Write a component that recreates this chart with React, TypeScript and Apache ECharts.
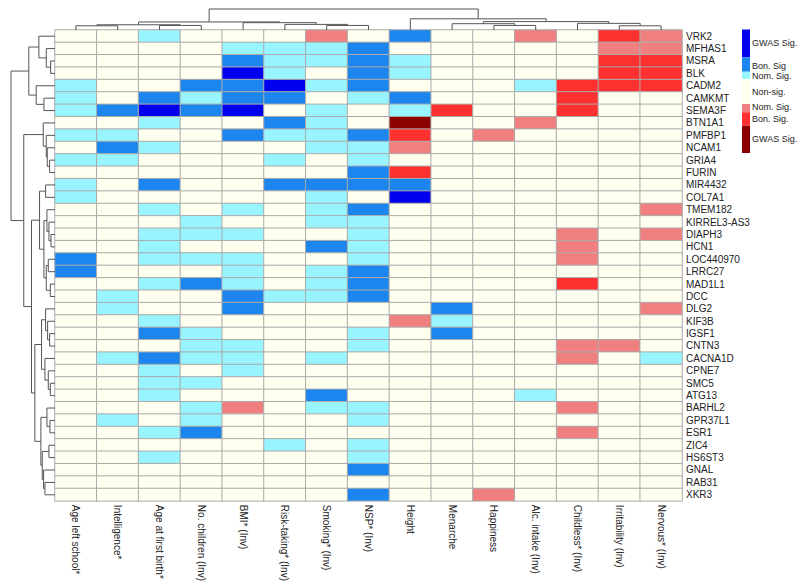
import React, { useEffect, useRef } from "react";
import * as echarts from "echarts";

const traits = [
  "Age left school*",
  "Intelligence*",
  "Age at first birth*",
  "No. children (Inv)",
  "BMI* (Inv)",
  "Risk-taking* (Inv)",
  "Smoking* (Inv)",
  "NSP* (Inv)",
  "Height",
  "Menarche",
  "Happiness",
  "Alc. intake (Inv)",
  "Childless* (Inv)",
  "Irritability (Inv)",
  "Nervous* (Inv)",
];

const genes = [
  "VRK2", "MFHAS1", "MSRA", "BLK", "CADM2", "CAMKMT", "SEMA3F", "BTN1A1",
  "PMFBP1", "NCAM1", "GRIA4", "FURIN", "MIR4432", "COL7A1", "TMEM182",
  "KIRREL3-AS3", "DIAPH3", "HCN1", "LOC440970", "LRRC27", "MAD1L1", "DCC",
  "DLG2", "KIF3B", "IGSF1", "CNTN3", "CACNA1D", "CPNE7", "SMC5", "ATG13",
  "BARHL2", "GPR37L1", "ESR1", "ZIC4", "HS6ST3", "GNAL", "RAB31", "XKR3",
];

// -3 GWAS sig (neg), -2 Bonferroni, -1 nominal, 0 non-sig, 1 nominal, 2 Bonferroni, 3 GWAS sig
const significance = [
  [0, 0, -1, 0, 0, 0, 1, 0, -2, 0, 0, 1, 0, 2, 1],
  [0, 0, 0, 0, -1, -1, -1, -2, 0, 0, 0, 0, 0, 1, 1],
  [0, 0, 0, 0, -2, -1, -1, -2, -1, 0, 0, 0, 0, 2, 2],
  [0, 0, 0, 0, -3, -1, 0, -2, -1, 0, 0, 0, 0, 2, 2],
  [-1, 0, 0, -2, -2, -3, -1, -2, 0, 0, 0, -1, 2, 2, 2],
  [-1, 0, -2, -1, -2, -2, 0, -1, -2, 0, 0, 0, 2, 0, 0],
  [-1, -2, -3, -2, -3, 0, -1, 0, -1, 2, 0, 0, 2, 0, 0],
  [0, 0, -1, 0, 0, -2, -1, 0, 3, 0, 0, 1, 0, 0, 0],
  [-1, -1, 0, 0, -2, -1, -1, -2, 2, 0, 1, 0, 0, 0, 0],
  [0, -2, -1, 0, 0, 0, -1, -1, 1, 0, 0, 0, 0, 0, 0],
  [-1, -1, 0, 0, 0, -1, 0, -1, 0, 0, 0, 0, 0, 0, 0],
  [0, 0, 0, 0, 0, 0, 0, -2, 2, 0, 0, 0, 0, 0, 0],
  [-1, 0, -2, 0, 0, -2, -2, -2, -2, 0, 0, 0, 0, 0, 0],
  [-1, 0, 0, 0, 0, 0, -1, 0, -3, 0, 0, 0, 0, 0, 0],
  [0, 0, -1, 0, -1, 0, -1, -2, 0, 0, 0, 0, 0, 0, 1],
  [0, 0, 0, -1, 0, 0, -1, -1, 0, 0, 0, 0, 0, 0, 0],
  [0, 0, -1, -1, -1, 0, 0, -1, 0, 0, 0, 0, 1, 0, 1],
  [0, 0, -1, 0, 0, 0, -2, -1, 0, 0, 0, 0, 1, 0, 0],
  [-2, 0, -1, -1, -1, 0, 0, -1, 0, 0, 0, 0, 1, 0, 0],
  [-2, 0, 0, 0, -1, 0, -1, -2, 0, 0, 0, 0, 0, 0, 0],
  [0, 0, -1, -2, -1, 0, -1, -2, 0, 0, 0, 0, 2, 0, 0],
  [0, -1, 0, 0, -2, -1, -1, -2, 0, 0, 0, 0, 0, 0, 0],
  [0, -1, 0, 0, -2, 0, 0, 0, 0, -2, 0, 0, 0, 0, 1],
  [0, 0, -1, 0, 0, 0, 0, 0, 1, -1, 0, 0, 0, 0, 0],
  [0, 0, -2, -1, 0, 0, 0, -1, 0, -2, 0, 0, 0, 0, 0],
  [0, 0, 0, -1, -1, 0, 0, -1, 0, 0, 0, 0, 1, 1, 0],
  [0, -1, -2, -1, -1, 0, -1, 0, 0, 0, 0, 0, 1, 0, -1],
  [0, 0, -1, 0, -1, 0, 0, 0, 0, 0, 0, 0, 0, 0, 0],
  [0, 0, -1, -1, 0, 0, 0, 0, 0, 0, 0, 0, 0, 0, 0],
  [0, 0, -1, 0, 0, 0, -2, 0, 0, 0, 0, -1, 0, 0, 0],
  [0, 0, 0, -1, 1, 0, -1, -1, 0, 0, 0, 0, 1, 0, 0],
  [0, -1, 0, -1, 0, 0, 0, -1, 0, 0, 0, 0, 0, 0, 0],
  [0, 0, -1, -2, 0, 0, 0, 0, 0, 0, 0, 0, 1, 0, 0],
  [0, 0, 0, 0, 0, -1, 0, -1, 0, 0, 0, 0, 0, 0, 0],
  [0, 0, -1, 0, 0, 0, 0, -1, 0, 0, 0, 0, 0, 0, 0],
  [0, 0, 0, 0, 0, 0, 0, -2, 0, 0, 0, 0, 0, 0, 0],
  [0, 0, 0, 0, 0, 0, 0, 0, 0, 0, 0, 0, 0, 0, 0],
  [0, 0, 0, 0, 0, 0, 0, -2, 0, 0, 1, 0, 0, 0, 0],
];

const levels = [-3, -2, -1, 0, 1, 2, 3];
const levelColors = ["#0000EE", "#1C86EE", "#98F5FF", "#FFFFF0", "#F08080", "#FF3030", "#8B0000"];
const legendLabels = ["GWAS Sig.", "Bon. Sig", "Nom. Sig.", "Non-sig.", "Nom. Sig.", "Bon. Sig.", "GWAS Sig."];

type Node = number | [Node, Node, number];

// dendrogram over traits (leaf = column index, last = merge height)
const traitTree: Node = [
  [[[0, 1, 12], [2, 3, 13], 15], [4, [5, [6, 7, 13], 16], 21], 23],
  [8, [[9, [10, 11, 13], 18], [12, [13, 14, 12], 19], 24], 32],
  60,
];

// dendrogram over genes (leaf = row index, last = merge height)
const geneTree: Node = [
  [[0, [1, [2, 3, 13], 26], 48], [4, [5, 6, 33], 56], 78],
  [
    [7, [8, [9, [10, 11, 16], 23], 26], 35],
    [
      [[12, 13, 28], [[14, [15, [16, 17, 12], 18], 24], [[18, 19, 20], [20, 21, 14], 26], 33], 46],
      [
        [[22, [23, [24, 25, 16], 22], 28], [26, [27, [28, 29, 14], 20], 30], 40],
        [[30, [31, 32, 15], 24], [[33, 34, 18], [35, [36, 37, 30], 34], 38], 42],
        60,
      ],
      70,
    ],
    93,
  ],
  131,
];

function collectLinks(node: Node, out: number[][]): [number, number] {
  if (typeof node === "number") return [node + 0.5, 0];
  const a = collectLinks(node[0], out);
  const b = collectLinks(node[1], out);
  out.push([a[0], a[1], b[0], b[1], node[2]]);
  return [(a[0] + b[0]) / 2, node[2]];
}

const FONT = "'Liberation Sans', Arial, sans-serif";

export default function App() {
  const ref = useRef<HTMLDivElement>(null);

  useEffect(() => {
    if (!ref.current) return;
    const chart = echarts.init(ref.current, undefined, { renderer: "svg" });

    const cells: number[][] = [];
    significance.forEach((row, r) => row.forEach((v, c) => cells.push([c, r, v])));

    const traitLinks: number[][] = [];
    const traitRoot = collectLinks(traitTree, traitLinks);
    const geneLinks: number[][] = [];
    const geneRoot = collectLinks(geneTree, geneLinks);

    const lineStyle = { stroke: "#555", fill: "none", lineWidth: 1 };

    // legend bar (layout)
    const bandHeights = [27.8, 14.4, 7.3, 25, 8.3, 13.4, 27.3];
    const labelShift = [0, 1, 0.5, 0, -1.5, 0, 0];
    const legendX = 742;
    let yy = 29.5;
    const legendGraphics: any[] = [];
    levelColors.forEach((col, i) => {
      const h = bandHeights[i];
      legendGraphics.push({
        type: "rect",
        shape: { x: legendX, y: yy, width: 8, height: h },
        style: { fill: col },
        silent: true,
      });
      legendGraphics.push({
        type: "text",
        x: legendX + 10,
        y: yy + h / 2 + labelShift[i],
        style: {
          text: legendLabels[i],
          fill: "#222",
          font: `9px ${FONT}`,
          verticalAlign: "middle",
        },
        silent: true,
      });
      yy += h;
    });

    chart.setOption({
      animation: false,
      backgroundColor: "#ffffff",
      grid: [
        { left: 55, right: 118, top: 30, height: 471, containLabel: false },
        { left: 55, right: 118, top: 9, height: 21, containLabel: false },
        { left: 11, width: 44, top: 30, height: 471, containLabel: false },
      ],
      xAxis: [
        {
          type: "category",
          data: traits,
          gridIndex: 0,
          position: "bottom",
          axisLine: { show: false },
          axisTick: { show: false },
          splitLine: { show: false },
          axisLabel: {
            rotate: -90,
            margin: 4,
            fontSize: 10,
            color: "#222",
            fontFamily: FONT,
            interval: 0,
          },
        },
        { type: "value", gridIndex: 1, min: 0, max: traits.length, show: false },
        { type: "value", gridIndex: 2, min: 0, max: geneRoot[1], inverse: true, show: false },
      ],
      yAxis: [
        {
          type: "category",
          data: genes,
          gridIndex: 0,
          inverse: true,
          position: "right",
          axisLine: { show: false },
          axisTick: { show: false },
          splitLine: { show: false },
          axisLabel: {
            margin: 4,
            fontSize: 10,
            color: "#222",
            fontFamily: FONT,
            interval: 0,
          },
        },
        { type: "value", gridIndex: 1, min: 0, max: traitRoot[1], show: false },
        { type: "value", gridIndex: 2, min: 0, max: genes.length, inverse: true, show: false },
      ],
      visualMap: {
        type: "piecewise",
        show: false,
        seriesIndex: 0,
        dimension: 2,
        pieces: levels.map((v, i) => ({ value: v, color: levelColors[i] })),
      },
      series: [
        {
          type: "heatmap",
          xAxisIndex: 0,
          yAxisIndex: 0,
          data: cells,
          itemStyle: { borderColor: "#ababab", borderWidth: 1 },
          emphasis: { disabled: true },
        },
        {
          type: "custom",
          xAxisIndex: 1,
          yAxisIndex: 1,
          data: traitLinks,
          silent: true,
          renderItem: (params: any, api: any) => {
            const p1 = api.value(0), h1 = api.value(1), p2 = api.value(2), h2 = api.value(3), hm = api.value(4);
            return {
              type: "polyline",
              shape: {
                points: [api.coord([p1, h1]), api.coord([p1, hm]), api.coord([p2, hm]), api.coord([p2, h2])],
              },
              style: lineStyle,
            };
          },
        },
        {
          type: "custom",
          xAxisIndex: 2,
          yAxisIndex: 2,
          data: geneLinks,
          silent: true,
          renderItem: (params: any, api: any) => {
            const p1 = api.value(0), h1 = api.value(1), p2 = api.value(2), h2 = api.value(3), hm = api.value(4);
            return {
              type: "polyline",
              shape: {
                points: [api.coord([h1, p1]), api.coord([hm, p1]), api.coord([hm, p2]), api.coord([h2, p2])],
              },
              style: lineStyle,
            };
          },
        },
      ],
      graphic: legendGraphics,
    });

    return () => chart.dispose();
  }, []);

  return (
    <div
      ref={ref}
      style={{ position: "absolute", left: 0, top: 0, width: 800, height: 584, background: "#fff" }}
    />
  );
}
